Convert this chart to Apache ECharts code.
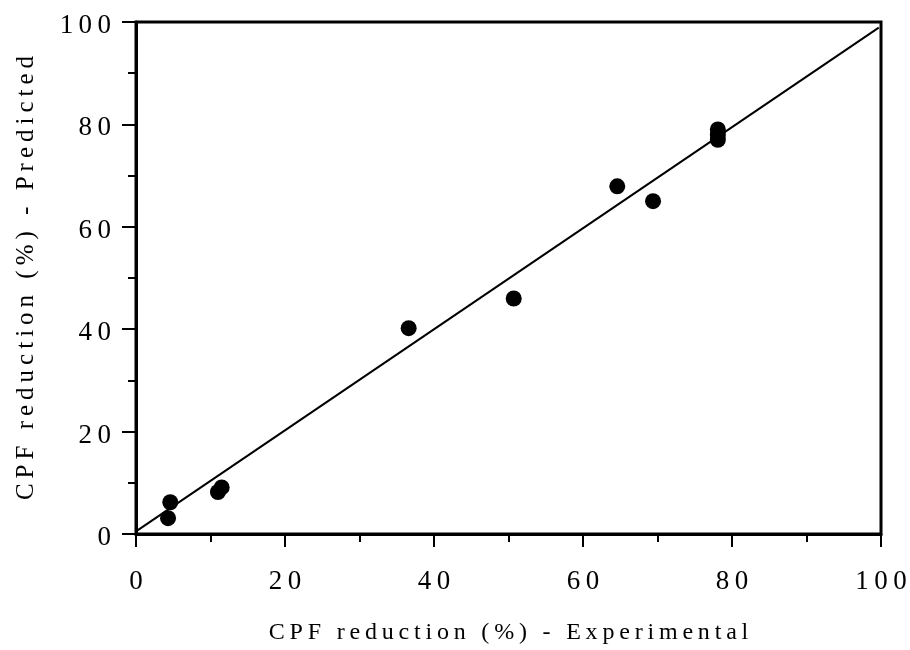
<!DOCTYPE html>
<html>
<head>
<meta charset="utf-8">
<script src="https://cdn.jsdelivr.net/npm/echarts@6/dist/echarts.min.js"></script>
<style>html,body{margin:0;padding:0;background:#fff}#c{width:910px;height:650px}</style>
</head>
<body>
<div id="c"></div>
<script>
var experimental = [4.6, 4.3, 11.0, 11.5, 36.6, 50.7, 64.6, 69.4, 78.1, 78.1, 78.1];
var predicted    = [6.2, 3.1, 8.2, 9.1, 40.2, 46.0, 67.9, 65.0, 79.0, 78.0, 77.0];
var fitLineX = [0, 99.7];
var fitLineY = [0.5, 98.9];
var xTicks = [0, 20, 40, 60, 80, 100];
var yTicks = [0, 20, 40, 60, 80, 100];
var xTitle = 'CPF reduction (%) - Experimental';
var yTitle = 'CPF reduction (%) - Predicted';

function spaced(s) { return String(s).split('').join('\u2009'); }

var points = experimental.map(function (x, i) { return [x, predicted[i]]; });
var line = fitLineX.map(function (x, i) { return [x, fitLineY[i]]; });
var font = '"Liberation Serif", "DejaVu Serif", serif';

var chart = echarts.init(document.getElementById('c'));
chart.setOption({
  animation: false,
  backgroundColor: '#fff',
  grid: { left: 136, right: 29, top: 22, bottom: 115, show: true, borderColor: '#000', borderWidth: 3, backgroundColor: 'transparent' },
  xAxis: {
    type: 'value', min: 0, max: 100, interval: 20,
    name: spaced(xTitle), nameLocation: 'middle', nameGap: 87,
    nameTextStyle: { fontFamily: font, fontSize: 24, color: '#000' },
    axisLine: { show: true, onZero: false, lineStyle: { color: '#000', width: 3 } },
    axisTick: { show: true, inside: false, length: 13, lineStyle: { color: '#000', width: 2 } },
    minorTick: { show: true, splitNumber: 2, length: 8, lineStyle: { color: '#000', width: 2 } },
    splitLine: { show: false },
    axisLabel: { margin: 34, fontFamily: font, fontSize: 27, color: '#000',
      formatter: function (v) { return xTicks.indexOf(v) >= 0 ? spaced(v) : ''; } }
  },
  yAxis: {
    type: 'value', min: 0, max: 100, interval: 20,
    name: spaced(yTitle), nameLocation: 'middle', nameGap: 97,
    nameTextStyle: { fontFamily: font, fontSize: 25, color: '#000' },
    axisLine: { show: true, onZero: false, lineStyle: { color: '#000', width: 3 } },
    axisTick: { show: true, inside: false, length: 14, lineStyle: { color: '#000', width: 2 } },
    minorTick: { show: true, splitNumber: 2, length: 8, lineStyle: { color: '#000', width: 2 } },
    splitLine: { show: false },
    axisLabel: { margin: 25, fontFamily: font, fontSize: 27, color: '#000',
      rich: { a: { fontFamily: font, fontSize: 27, color: '#000', padding: [8, 0, 0, 0] } },
      formatter: function (v) { return yTicks.indexOf(v) >= 0 ? '{a|' + spaced(v) + '}' : ''; } }
  },
  series: [
    { type: 'line', data: line, showSymbol: false, symbol: 'none', lineStyle: { color: '#000', width: 2 }, z: 2 },
    { type: 'scatter', data: points, symbol: 'circle', symbolSize: 16, itemStyle: { color: '#000', opacity: 1 }, z: 3 }
  ]
});
</script>
</body>
</html>
